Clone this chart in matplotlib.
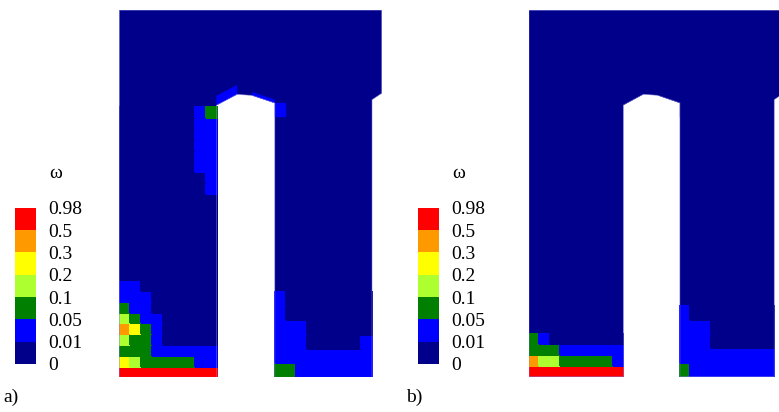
import numpy as np
import matplotlib
matplotlib.use("Agg")
import matplotlib.pyplot as plt
from matplotlib.colors import ListedColormap, BoundaryNorm
from matplotlib.collections import PolyCollection
from matplotlib.cm import ScalarMappable

plt.rcParams['font.family'] = ['Liberation Serif', 'DejaVu Serif']

# damage variable classes
omega_bounds = [0, 0.01, 0.05, 0.1, 0.2, 0.3, 0.5, 0.98]
omega_labels = ["0", "0.01", "0.05", "0.1", "0.2", "0.3", "0.5", "0.98"]
omega_colors = ["#00008b", "#0000ff", "#007f00", "#adff2f",
                "#ffff00", "#ff9900", "#ff0000"]

# class index per element, rows listed top to bottom
# (a) column left of the slot, square elements
left_a = [
    "000000012",
    "000000011",
    "000000011",
    "000000011",
    "000000011",
    "000000011",
    "000000001",
    "000000001",
    "000000000",
    "000000000",
    "000000000",
    "000000000",
    "000000000",
    "000000000",
    "000000000",
    "000000000",
    "110000000",
    "111000000",
    "211000000",
    "321100000",
    "542100000",
    "322100000",
    "222111111",
    "432222211",
    "666666666",
]
# (a) column right of the slot, taller elements
right_a = [
    "100000000",
    "100000000",
    "111000000",
    "111000001",
    "111111111",
    "221111111",
]
# (a) layer round the slot head: left chamfer, crown, right chamfer, right flank
cap_a = [1, 0, 1, 1]

# (b)
left_b = [
    "210000000",
    "222111111",
    "533222221",
    "666666666",
]
right_b = [
    "100000000",
    "111000000",
    "111000000",
    "111111111",
    "211111111",
]
cap_b = [0, 0, 0, 0]

# geometry of the section (element widths = 1)
N_COLS = 9
SLOT_X0, SLOT_X1 = 9.0, 14.4
X_RIGHT_END = 23.4
X_TOP_END = 24.3
HEIGHT = 34.0
ROW_H_RIGHT = 1.315
slot_head = [(9.0, 25.2), (10.9, 26.2), (12.3, 26.1), (14.4, 25.4)]
cap_depth = [0.85, 0.0, 0.3]
FLANK_Y0 = 24.1

cmap = ListedColormap(omega_colors)
norm = BoundaryNorm(omega_bounds, cmap.N)
class_mid = [(omega_bounds[i] + omega_bounds[i + 1]) / 2 for i in range(7)]


def grid_values(rows):
    arr = np.array([[int(c) for c in r] for r in rows[::-1]])
    return np.array(class_mid)[arr]


def draw_panel(ax, left_rows, right_rows, cap):
    outline = ([(0, 0), (SLOT_X0, 0)] + slot_head +
               [(SLOT_X1, 0), (X_RIGHT_END, 0), (X_RIGHT_END, 25.7),
                (X_TOP_END, 26.3), (X_TOP_END, HEIGHT), (0, HEIGHT)])
    ax.fill(*zip(*outline), facecolor=cmap(norm(class_mid[0])),
            edgecolor='none', zorder=1)

    v = grid_values(left_rows)
    xe = np.arange(N_COLS + 1)
    ye = np.arange(v.shape[0] + 1)
    ax.pcolormesh(xe, ye, v, cmap=cmap, norm=norm, shading='flat',
                  antialiased=False, edgecolors='face', linewidth=0.2, zorder=2)

    v = grid_values(right_rows)
    xe = SLOT_X1 + np.arange(N_COLS + 1)
    ye = np.arange(v.shape[0] + 1) * ROW_H_RIGHT
    ax.pcolormesh(xe, ye, v, cmap=cmap, norm=norm, shading='flat',
                  antialiased=False, edgecolors='face', linewidth=0.2, zorder=2)

    polys, vals = [], []
    for i in range(len(slot_head) - 1):
        (x0, y0), (x1, y1) = slot_head[i], slot_head[i + 1]
        d = cap_depth[i]
        if d > 0:
            polys.append([(x0, y0), (x1, y1), (x1, y1 + d), (x0, y0 + d)])
            vals.append(class_mid[cap[i]])
    xr, yr = slot_head[-1]
    polys.append([(SLOT_X1, FLANK_Y0), (SLOT_X1 + 1, FLANK_Y0),
                  (SLOT_X1 + 1, yr), (SLOT_X1, yr)])
    vals.append(class_mid[cap[3]])
    pc = PolyCollection(polys, array=np.array(vals), cmap=cmap, norm=norm,
                        edgecolors='face', linewidths=0.2, zorder=3)
    ax.add_collection(pc)

    # faint boundary line of the section
    ax.fill(*zip(*outline), facecolor='none', edgecolor='#8080e0',
            linewidth=0.5, alpha=0.7, zorder=4)

    ax.set_xlim(0, X_TOP_END)
    ax.set_ylim(0, HEIGHT)
    ax.axis('off')


W, H = 779, 412
fig = plt.figure(figsize=(W / 100, H / 100), dpi=100)


def px_axes(x0, y_top, w, h):
    return fig.add_axes([x0 / W, 1 - (y_top + h) / H, w / W, h / H])


panels = [
    dict(x0=119.3, sx=10.8, bottom=377.3, sy=10.8, off=0,
         left=left_a, right=right_a, cap=cap_a, tag="a)"),
    dict(x0=529.0, sx=10.48, bottom=376.7, sy=10.78, off=403,
         left=left_b, right=right_b, cap=cap_b, tag="b)"),
]

for p in panels:
    w = X_TOP_END * p['sx']
    h = HEIGHT * p['sy']
    ax = px_axes(p['x0'], p['bottom'] - h, w, h)
    draw_panel(ax, p['left'], p['right'], p['cap'])

    off = p['off']
    cax = px_axes(15 + off, 207.7, 21, 156.3)
    cb = fig.colorbar(ScalarMappable(norm=norm, cmap=cmap), cax=cax,
                      spacing='uniform', ticks=omega_bounds)
    cb.set_ticklabels(omega_labels)
    cb.outline.set_visible(False)
    cax.tick_params(length=0, pad=8.5, labelsize=14)

    fig.text((56 + off) / W, 1 - 174 / H, "ω", ha='center', va='center',
             fontsize=14)
    fig.text((3 + off) / W, 1 - 397 / H, p['tag'], ha='left', va='center',
             fontsize=14)

fig.savefig("out.png", dpi=100)
